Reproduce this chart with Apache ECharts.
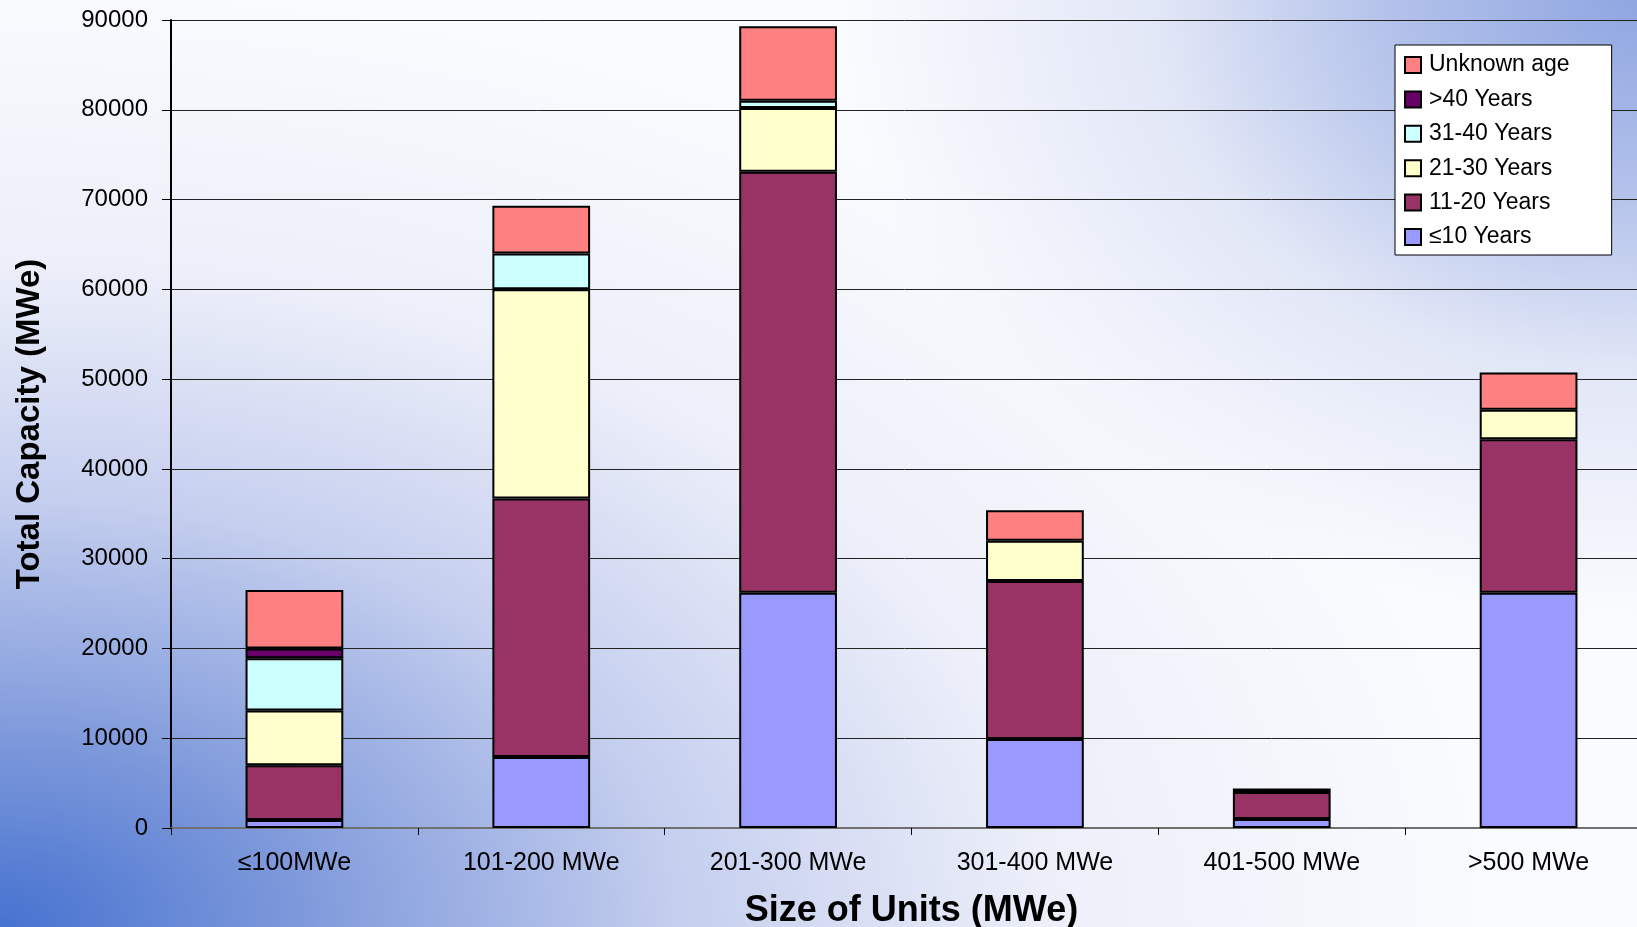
<!DOCTYPE html>
<html><head><meta charset="utf-8">
<script src="https://cdn.jsdelivr.net/npm/echarts@6/dist/echarts.min.js"></script>
<style>
html,body{margin:0;padding:0;width:1637px;height:927px;overflow:hidden;}
#chart{width:1637px;height:927px;background:
 radial-gradient(ellipse 1500px 950px at 0% 100%, #4672d0 0%, #7e99db 20%, #c4ceee 45%, rgba(235,238,249,0.9) 70%, rgba(255,255,255,0) 100%),
 radial-gradient(ellipse 800px 620px at 100% 0%, #8fa6e1 0%, #b2c1ea 30%, rgba(220,226,245,0.8) 60%, rgba(255,255,255,0) 100%),
 #fafbfe;}
</style></head>
<body><div id="chart"></div>
<script>
const categories = ['≤100MWe', '101-200 MWe', '201-300 MWe', '301-400 MWe', '401-500 MWe', '>500 MWe'];
const seriesNames = ['≤10 Years', '11-20 Years', '21-30 Years', '31-40 Years', '>40 Years', 'Unknown age'];
const upTo10 = [900, 7900, 26200, 9900, 1000, 26200];
const y11to20 = [6100, 28800, 46900, 17600, 3000, 17100];
const y21to30 = [6100, 23300, 7100, 4500, 0, 3300];
const y31to40 = [5800, 4000, 800, 0, 0, 0];
const over40 = [1100, 0, 0, 0, 0, 0];
const unknownAge = [6500, 5300, 8300, 3400, 400, 4150];
const yMin = 0, yMax = 90000, yStep = 10000;
const colors = ['#9999FF', '#993366', '#FFFFCC', '#CCFFFF', '#660066', '#FF8080'];

const FONT = "'Liberation Sans', Arial, sans-serif";
const values = [upTo10, y11to20, y21to30, y31to40, over40, unknownAge];

const chart = echarts.init(document.getElementById('chart'), null, {renderer: 'canvas'});
chart.setOption({
  backgroundColor: 'transparent',
  animation: false,
  grid: {left: 171, right: -15, top: 20, bottom: 99, containLabel: false, outerBoundsMode: 'none'},
  legend: {
    data: seriesNames.slice().reverse(),
    orient: 'vertical',
    left: 1395, top: 45,
    backgroundColor: '#ffffff',
    borderColor: '#000', borderWidth: 1,
    padding: [8, 42, 6, 9],
    itemWidth: 16, itemHeight: 16, itemGap: 10.4,
    icon: 'rect',
    itemStyle: {borderColor: '#000', borderWidth: 2},
    textStyle: {fontFamily: FONT, fontSize: 23, lineHeight: 24, color: '#000', padding: [0, 0, 0, 3]}
  },
  xAxis: {
    type: 'category',
    data: categories,
    name: 'Size of Units (MWe)',
    nameLocation: 'middle',
    nameGap: 65,
    nameTextStyle: {fontFamily: FONT, fontSize: 36, fontWeight: 'bold', color: '#000'},
    axisLine: {lineStyle: {color: '#707070', width: 2}},
    axisTick: {show: true, length: 7, lineStyle: {color: '#000', width: 1}},
    axisLabel: {fontFamily: FONT, fontSize: 25, color: '#000', margin: 23},
    splitLine: {show: false}
  },
  yAxis: {
    type: 'value',
    min: yMin, max: yMax, interval: yStep,
    name: 'Total Capacity (MWe)',
    nameLocation: 'middle',
    nameGap: 125,
    nameTextStyle: {fontFamily: FONT, fontSize: 33, fontWeight: 'bold', color: '#000'},
    axisLine: {show: true, lineStyle: {color: '#000', width: 2}},
    axisTick: {show: true, length: 9, lineStyle: {color: '#000', width: 1}},
    axisLabel: {fontFamily: FONT, fontSize: 24, color: '#000', margin: 23, formatter: v => String(v)},
    splitLine: {show: true, lineStyle: {color: '#222', width: 1}}
  },
  series: seriesNames.map((n, i) => ({
    name: n,
    type: 'bar',
    stack: 'total',
    data: values[i].map(v => (v === 0 ? '-' : v)),
    barWidth: '39.6%',
    itemStyle: {color: colors[i], borderColor: '#000', borderWidth: 2}
  }))
});
</script>
</body></html>
